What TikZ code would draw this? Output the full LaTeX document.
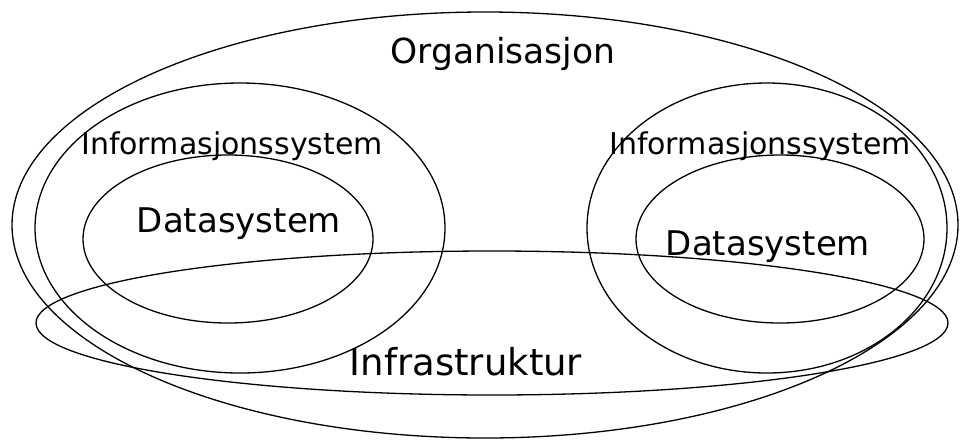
\documentclass[tikz,border=0pt]{standalone}
\usepackage{fontspec}
\setmainfont{DejaVu Sans}
\begin{document}
\begin{tikzpicture}[x=1pt,y=-1pt,
  ring/.style={draw=black,line width=1.3pt},
  lbl/.style={anchor=base,inner sep=0pt,text=black}]
\useasboundingbox (0,0) rectangle (961,440);
% Organisasjon
\draw[ring] (485,225) ellipse [x radius=473, y radius=213];
% left system
\draw[ring] (240,228) ellipse [x radius=205, y radius=145];
\draw[ring] (228,239) ellipse [x radius=145, y radius=84];
% right system
\draw[ring] (767,228) ellipse [x radius=180, y radius=145];
\draw[ring] (780,239) ellipse [x radius=144, y radius=84];
% Infrastruktur
\draw[ring] (492,323) ellipse [x radius=456, y radius=72];
% labels
\node[lbl,font=\fontsize{34.5}{40}\selectfont] (org) at (503,63) {Organisasjon};
\node[lbl,font=\fontsize{30}{36}\selectfont] (isl) at (232,154) {Informasjonssystem};
\node[lbl,font=\fontsize{30}{36}\selectfont] (isr) at (760,154) {Informasjonssystem};
\node[lbl,font=\fontsize{34}{40}\selectfont] (dsl) at (239,232) {Datasystem};
\node[lbl,font=\fontsize{34}{40}\selectfont] (dsr) at (768,255) {Datasystem};
\node[lbl,font=\fontsize{37}{42}\selectfont] (inf) at (466,375) {Infrastruktur};
\end{tikzpicture}
\end{document}
